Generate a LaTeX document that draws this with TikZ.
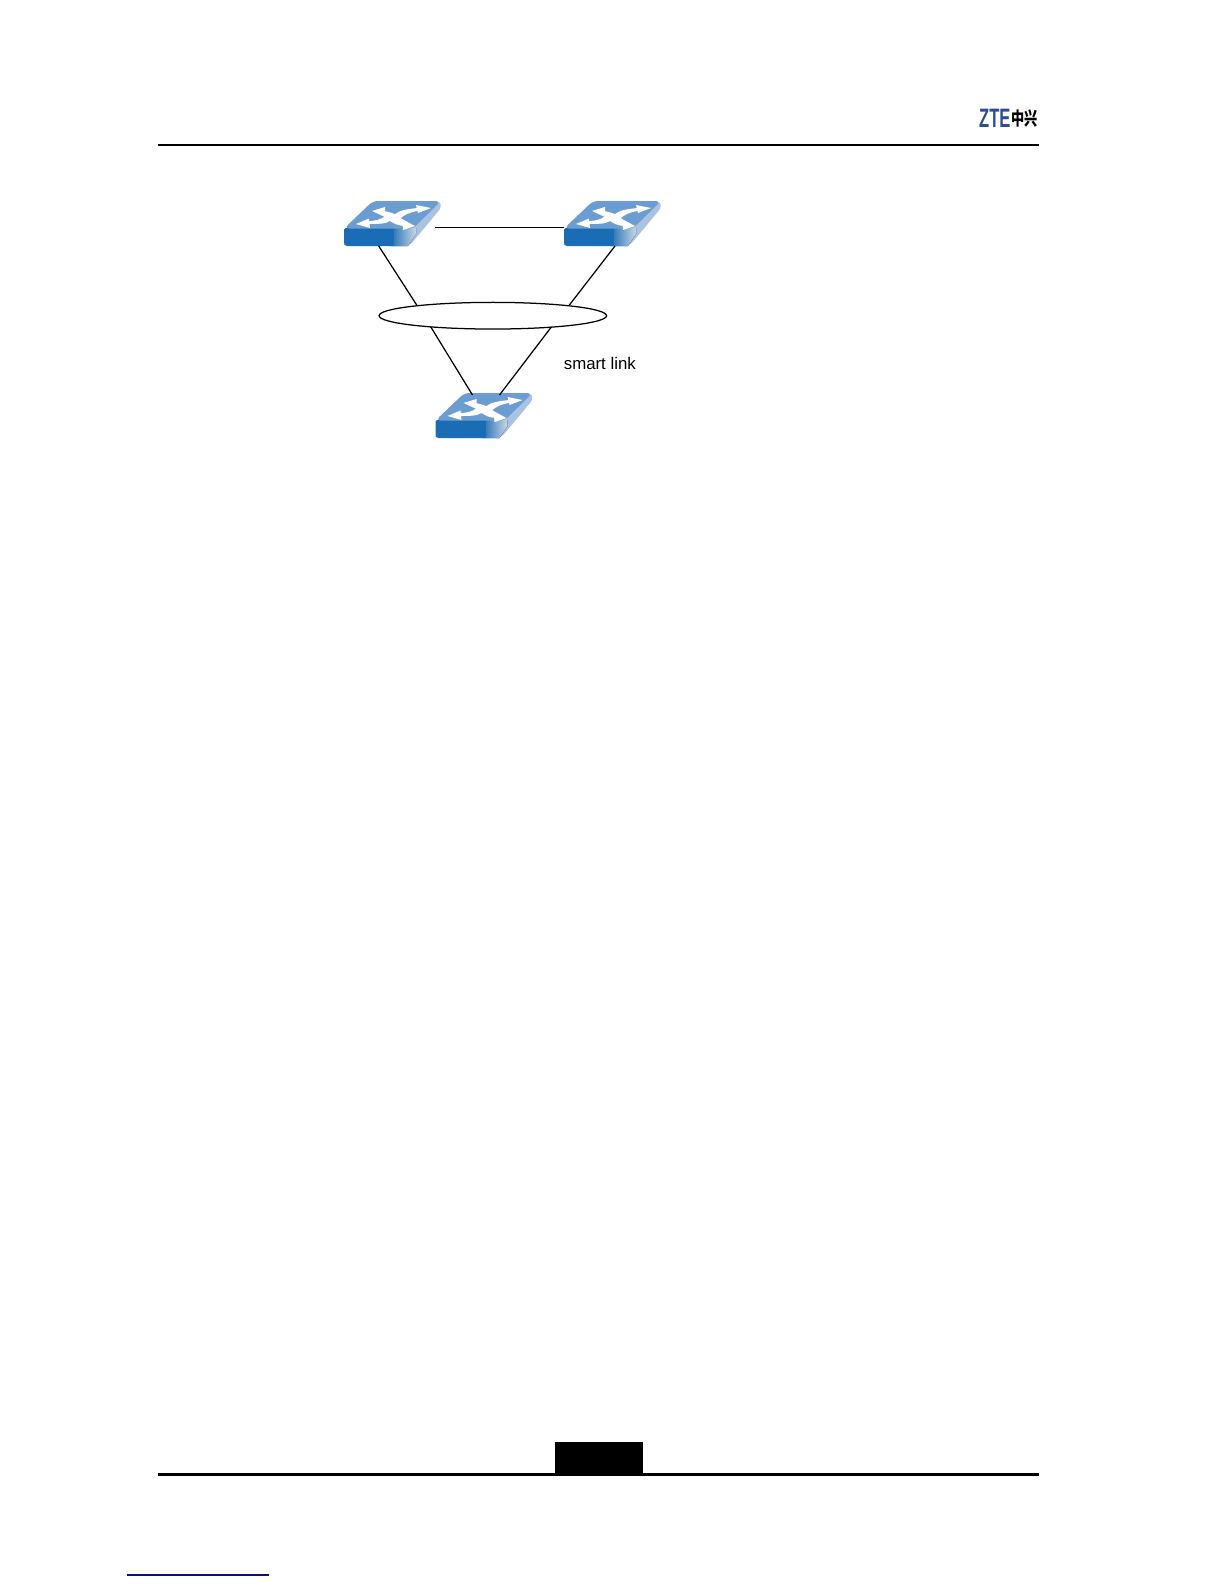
\documentclass[tikz,border=0pt]{standalone}
\usepackage{fontspec}
\setsansfont{Liberation Sans}
\newfontfamily\cjkfont{Noto Sans CJK SC}
\usetikzlibrary{shapes.geometric,positioning}
\definecolor{swfront}{HTML}{1A6DB4}
\definecolor{swtop}{HTML}{6C9DD2}
\definecolor{swside}{HTML}{A9C3E0}
\definecolor{swfade}{HTML}{C9D6E4}
\definecolor{ztblue}{HTML}{2B4C9B}
\definecolor{linkblue}{HTML}{10107A}

\begin{document}
\begin{tikzpicture}[
  x=0.6pt, y=-0.6pt,
  font=\sffamily,
  lnk/.style={line width=0.75pt},
  hrule/.style={line width=#1, black},
  ring/.style={draw, ellipse, line width=0.75pt, inner sep=0pt, minimum width=136.5pt, minimum height=16pt},
  swtip/.style={fill=white, draw=none},
  switchicon/.pic={
    % side, then front, then top face
    \fill[swside, rounded corners=1.5pt]
      (60,25) -- (68,25) -- (96,-2) -- (97,5) -- (67,41) -- (60,43) -- cycle;
    \fill[left color=swfront, middle color=swfront!70!swfade, right color=swfade]
      (46,25) -- (72,25) -- (72,31) -- (64,43) -- (46,43) -- cycle;
    \fill[swfront, rounded corners=1pt] (0,25) -- (48,25) -- (48,43) -- (1,43) -- (0,41) -- cycle;
    \fill[swfront] (44,25) rectangle (50,43);
    \fill[swtop, rounded corners=3pt] (0,25.5) -- (29,-2) -- (97,-2) -- (69,25.5) -- cycle;
    \fill[swtip] (28,8) -- (41,4) -- (41,14) -- cycle;
    \fill[swtip] (87,5) -- (72,2) -- (74,10) -- cycle;
    \fill[swtip] (12,21) -- (25,15.5) -- (26,25) -- cycle;
    \fill[swtip] (71,23) -- (58,16) -- (59,27) -- cycle;
    \fill[swtip] (40,8) .. controls (45,9) and (48,10) .. (51,11)
      .. controls (56,7) and (64,6) .. (74,5) -- (74,8)
      .. controls (66,9) and (60,12) .. (57,15)
      .. controls (58,17) and (60,18) .. (62,19) -- (61,23)
      .. controls (54,23) and (49,20) .. (46,18)
      .. controls (42,21) and (33,21) .. (24,21) -- (25,18)
      .. controls (32,18) and (37,16) .. (40,14) -- cycle;
    \coordinate (-e) at (91,24.7);
    \coordinate (-w) at (0,24.7);
    \coordinate (-sa) at (34.7,43);
    \coordinate (-sb) at (51,43);
    \coordinate (-na) at (37,0);
    \coordinate (-nb) at (64,0);
  },
]
\useasboundingbox (0,0) rectangle (1224,1584);

\pic (swa) at (344,203) {switchicon};
\pic (swb) at (564,203) {switchicon};
\pic (swc) at (435.5,395) {switchicon};
\node[ring] (lag) at (492.8,315.7) {};
\node[anchor=base west, inner sep=0pt, font=\sffamily\fontsize{10.1}{12}\selectfont] (smart) at (563.5,369) {smart link};

% where the links meet the ring
\coordinate (lagnw) at (417,305.5);
\coordinate (lagne) at (569,305.5);
\coordinate (lagsw) at (430.7,326.8);
\coordinate (lagse) at (551.5,326.8);

\draw[lnk] (swa-e) -- (swb-w);
\draw[lnk] (swa-sa) -- (lagnw);
\draw[lnk] (swb-sb) -- (lagne);
\draw[lnk] (lagsw) -- (swc-na);
\draw[lnk] (lagse) -- (swc-nb);

% page furniture
\node[anchor=west, inner sep=0pt, xscale=0.62, font=\sffamily\bfseries\fontsize{16}{16}\selectfont, text=ztblue] (zte) at (979,118.5) {ZTE};
\node[anchor=west, inner sep=0pt, xscale=0.72, font=\cjkfont\bfseries\fontsize{11}{11}\selectfont] (ztecn) at (1011,118.5) {中兴};
\draw[hrule=1.2pt] (158,144.5) -- (1039,144.5);
\draw[hrule=2.1pt] (158,1474.5) -- (1039,1474.5);
\fill (555,1442) rectangle (643,1475);
\draw[linkblue, line width=0.7pt] (127,1575) -- (269,1575);
\end{tikzpicture}
\end{document}
